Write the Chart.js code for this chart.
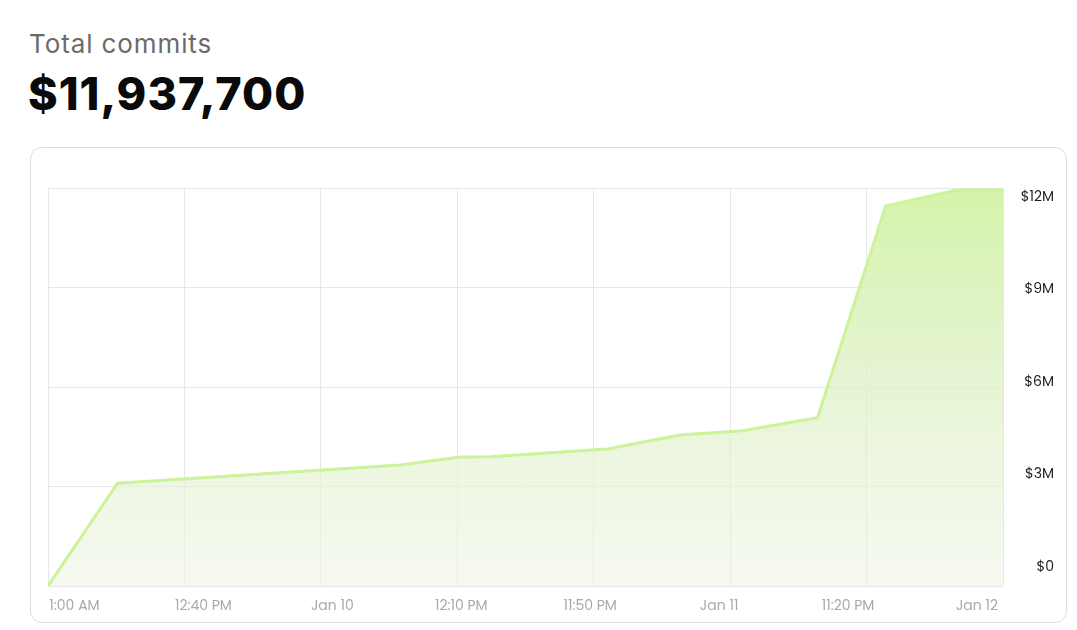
<!DOCTYPE html>
<html>
<head>
<meta charset="utf-8">
<script src="https://cdn.jsdelivr.net/npm/chart.js@4"></script>
<style>
  body { margin: 0; background: #fff; font-family: Inter, "Noto Sans", sans-serif; }
  .titulo { position: absolute; left: 29px; top: 28px; font-size: 26px; color: #6b6b6b; letter-spacing: 0.9px; }
  .total { position: absolute; left: 28px; top: 66px; font-size: 45px; font-weight: 800; color: #0a0a0a; letter-spacing: 1px; }
  .card { position: absolute; left: 30px; top: 147px; width: 1035px; height: 474px; border: 1px solid #dcdcdc; border-radius: 12px; }
  .card canvas { display: block; }
</style>
</head>
<body>
<div class="titulo">Total commits</div>
<div class="total">$11,937,700</div>
<div class="card"><canvas id="commitsChart" width="1035" height="474"></canvas></div>
<script>
// posições dos pontos em unidades de grade (0 = 1:00 AM, 7 = Jan 12)
const pontosX = [0, 0.51, 2.58, 3.02, 3.24, 4.10, 4.63, 5.07, 5.64, 6.14, 6.66, 7];
const valores = [0, 3100000, 3650000, 3890000, 3900000, 4130000, 4550000, 4670000, 5070000, 11460000, 11937700, 11937700];
const rotulosX = ["1:00 AM", "12:40 PM", "Jan 10", "12:10 PM", "11:50 PM", "Jan 11", "11:20 PM", "Jan 12"];
const ticksY = [0, 3000000, 6000000, 9000000, 12000000];
const rotulosY = ["$0", "$3M", "$6M", "$9M", "$12M"];

const fonteEixo = { family: "Poppins, Inter, 'Noto Sans', sans-serif", size: 14 };

function gradienteArea(context) {
  const { ctx, chartArea } = context.chart;
  if (!chartArea) return "rgba(214, 243, 173, 0.6)";
  const g = ctx.createLinearGradient(0, chartArea.top, 0, chartArea.bottom);
  g.addColorStop(0, "rgba(210, 243, 165, 0.95)");
  g.addColorStop(0.5, "rgba(222, 241, 198, 0.75)");
  g.addColorStop(1, "rgba(238, 244, 229, 0.55)");
  return g;
}

const ctx = document.getElementById("commitsChart").getContext("2d");
new Chart(ctx, {
  type: "line",
  data: {
    datasets: [
      {
        data: pontosX.map((x, i) => ({ x, y: valores[i] })),
        borderColor: "#ccf29a",
        borderWidth: 3,
        backgroundColor: gradienteArea,
        fill: "origin",
        tension: 0,
        pointRadius: 0
      }
    ]
  },
  options: {
    responsive: false,
    animation: false,
    layout: { padding: { left: 17, top: 40, right: 12, bottom: 4 } },
    plugins: { legend: { display: false }, tooltip: { enabled: false } },
    scales: {
      x: {
        type: "linear",
        min: 0,
        max: 7,
        position: "bottom",
        grid: { color: "#e7e7e7", drawTicks: false },
        border: { display: false },
        ticks: { display: false, stepSize: 1 },
        afterFit: s => { s.height = 0; }
      },
      xRotulos: {
        type: "linear",
        min: -0.2055,
        max: 7.2017,
        position: "bottom",
        grid: { display: false },
        border: { display: false },
        afterBuildTicks: s => { s.ticks = rotulosX.map((_, i) => ({ value: i })); },
        ticks: {
          autoSkip: false,
          maxRotation: 0,
          padding: 4,
          color: "#a9a9a9",
          font: fonteEixo,
          callback: (v, i) => rotulosX[i]
        },
        afterFit: s => { s.height = 32; }
      },
      y: {
        min: 0,
        max: 12000000,
        position: "right",
        grid: { color: "#e7e7e7", drawTicks: false },
        border: { display: false },
        afterBuildTicks: s => { s.ticks = ticksY.map(v => ({ value: v })); },
        ticks: { display: false },
        afterFit: s => { s.width = 0; }
      },
      yRotulos: {
        min: -616000,
        max: 12292000,
        position: "right",
        grid: { display: false },
        border: { display: false },
        afterBuildTicks: s => { s.ticks = ticksY.map(v => ({ value: v })); },
        ticks: {
          crossAlign: "far",
          color: "#1e1e1e",
          font: fonteEixo,
          callback: (v, i) => rotulosY[i]
        },
        afterFit: s => { s.width = 51; }
      }
    }
  }
});
</script>
</body>
</html>
